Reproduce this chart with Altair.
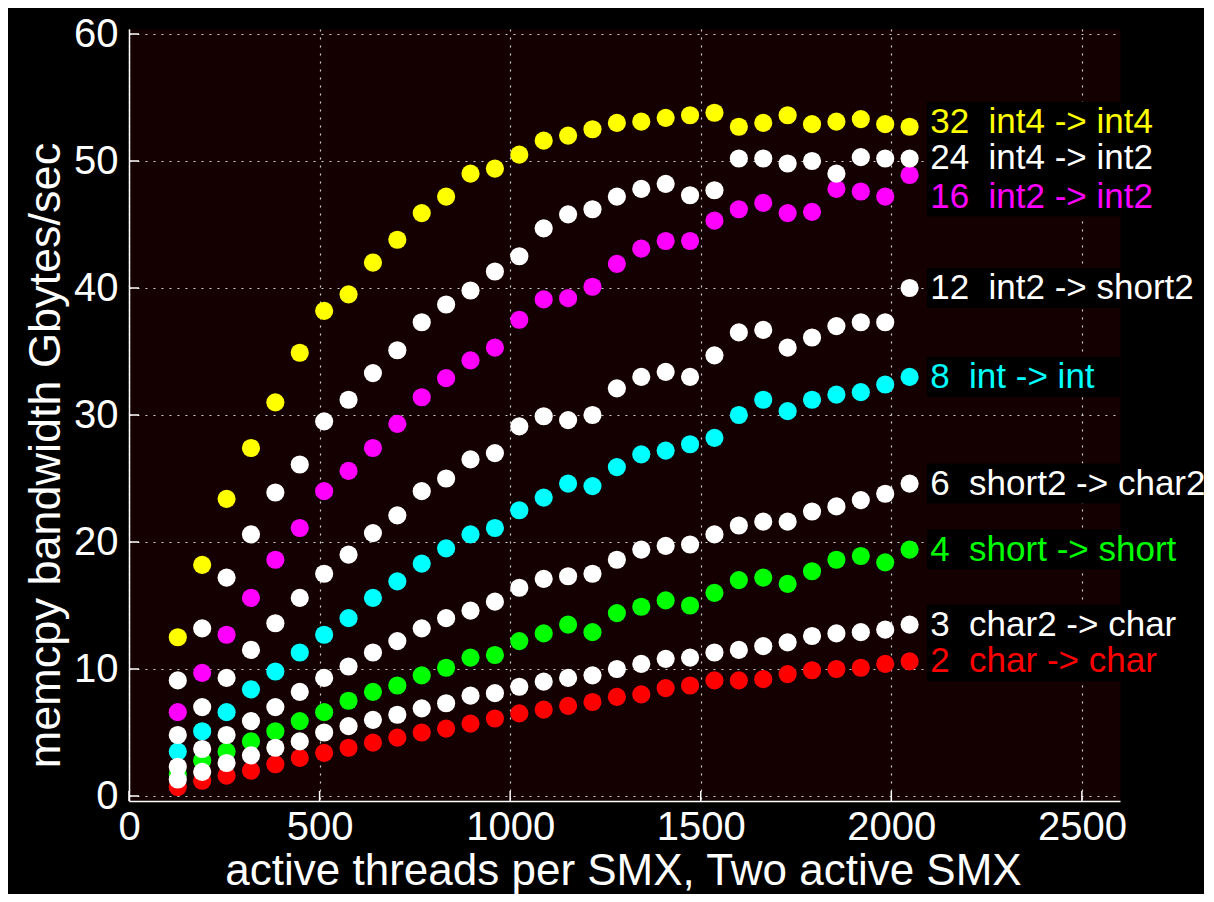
import altair as alt
import pandas as pd

threads = [128, 192, 256, 320, 384, 448, 512, 576, 640, 704, 768, 832, 896, 960,
           1024, 1088, 1152, 1216, 1280, 1344, 1408, 1472, 1536, 1600, 1664, 1728,
           1792, 1856, 1920, 1984, 2048]

bw_32 = [12.5, 18.2, 23.4, 27.4, 31.0, 34.9, 38.2, 39.5, 42.0, 43.8, 45.9, 47.2, 49.0, 49.4,
         50.5, 51.6, 52.0, 52.5, 53.0, 53.1, 53.4, 53.6, 53.8, 52.7, 53.0, 53.6, 52.9, 53.1,
         53.3, 52.9, 52.7]
bw_24 = [9.1, 13.2, 17.2, 20.6, 23.9, 26.1, 29.5, 31.2, 33.3, 35.1, 37.3, 38.7, 39.8, 41.3,
         42.5, 44.7, 45.8, 46.2, 47.2, 47.8, 48.2, 47.3, 47.7, 50.2, 50.2, 49.8, 50.0, 49.0,
         50.3, 50.2, 50.2]
bw_16 = [6.6, 9.7, 12.7, 15.6, 18.6, 21.1, 24.0, 25.6, 27.4, 29.3, 31.4, 32.9, 34.3, 35.3,
         37.5, 39.1, 39.2, 40.1, 41.9, 43.1, 43.7, 43.7, 45.3, 46.2, 46.7, 45.9, 46.0, 47.8,
         47.6, 47.2, 48.9]
bw_12 = [4.8, 7.0, 9.3, 11.5, 13.6, 15.6, 17.5, 19.0, 20.7, 22.1, 24.0, 25.0, 26.5, 27.0,
         29.1, 29.9, 29.6, 30.0, 32.1, 33.0, 33.4, 33.0, 34.7, 36.5, 36.7, 35.3, 36.1, 37.0,
         37.3, 37.3, 40.0]
bw_8 = [3.5, 5.1, 6.6, 8.4, 9.8, 11.3, 12.7, 14.0, 15.6, 16.9, 18.3, 19.5, 20.6, 21.1,
        22.5, 23.5, 24.6, 24.4, 25.9, 26.9, 27.2, 27.7, 28.2, 30.0, 31.2, 30.3, 31.2, 31.6,
        31.8, 32.4, 33.0]
bw_6 = [2.3, 3.7, 4.8, 5.9, 7.0, 8.2, 9.3, 10.2, 11.3, 12.2, 13.2, 14.0, 14.6, 15.3,
        16.4, 17.1, 17.3, 17.5, 18.6, 19.4, 19.7, 19.8, 20.6, 21.3, 21.6, 21.6, 22.4, 22.8,
        23.3, 23.8, 24.6]
bw_4 = [1.7, 2.8, 3.5, 4.3, 5.1, 5.9, 6.6, 7.5, 8.2, 8.7, 9.5, 10.1, 10.9, 11.1,
        12.2, 12.8, 13.5, 12.9, 14.4, 14.9, 15.4, 15.0, 16.0, 17.0, 17.2, 16.7, 17.7, 18.6,
        18.9, 18.4, 19.4]
bw_3 = [1.3, 1.9, 2.6, 3.2, 3.8, 4.3, 5.0, 5.5, 6.0, 6.4, 6.9, 7.3, 7.9, 8.1,
        8.6, 9.0, 9.3, 9.5, 10.0, 10.4, 10.8, 10.9, 11.3, 11.5, 11.8, 12.1, 12.6, 12.8,
        12.9, 13.1, 13.5]
bw_2 = [0.7, 1.2, 1.6, 2.0, 2.5, 3.0, 3.4, 3.8, 4.2, 4.6, 5.0, 5.3, 5.7, 6.1,
        6.5, 6.8, 7.1, 7.4, 7.8, 8.0, 8.5, 8.7, 9.1, 9.1, 9.2, 9.6, 9.9, 10.0,
        10.1, 10.4, 10.6]

NB = "\u00a0"
series_names = [
    "32" + NB + " int4 -> int4",
    "24" + NB + " int4 -> int2",
    "16" + NB + " int2 -> int2",
    "12" + NB + " int2 -> short2",
    "8" + NB + " int -> int",
    "6" + NB + " short2 -> char2",
    "4" + NB + " short -> short",
    "3" + NB + " char2 -> char",
    "2" + NB + " char -> char",
]
series_values = [bw_32, bw_24, bw_16, bw_12, bw_8, bw_6, bw_4, bw_3, bw_2]
series_colors = ["#ffff00", "#ffffff", "#ff00ff", "#ffffff", "#00ffff",
                 "#ffffff", "#00ff00", "#ffffff", "#ff0000"]
# label nudges (to avoid overlapping labels), in y units
label_nudge = [0.4, 0.0, -1.7, 0.0, 0.0, 0.0, 0.0, 0.0, 0.0]

x_ticks = [0, 500, 1000, 1500, 2000, 2500]
y_ticks = [0, 10, 20, 30, 40, 50, 60]

FONT = "Liberation Sans"
W, H = 991, 772

# draw coloured series first, white series on top
order = sorted(range(len(series_names)), key=lambda k: series_colors[k] == "#ffffff")
rows = []
for k in order:
    for t, v in zip(threads, series_values[k]):
        rows.append({"threads": t, "bw": v, "series": series_names[k]})
points_df = pd.DataFrame(rows)

label_df = pd.DataFrame({
    "series": series_names,
    "ly": [vals[-1] + nd for vals, nd in zip(series_values, label_nudge)],
    "lx": [2102] * len(series_names),
    "bx": [2094] * len(series_names),
    "bx2": [2600] * len(series_names),
})

xscale = alt.Scale(domain=[0, 2600], nice=False)
yscale = alt.Scale(domain=[0, 60], nice=False)
cscale = alt.Scale(domain=series_names, range=series_colors)

base_axis = dict(
    labelFont=FONT, labelFontSize=40, labelColor="white", labelFlush=False,
    labelOverlap=False, format="d",
    titleFont=FONT, titleFontWeight="normal", titleColor="white",
    domainColor="white", domainWidth=1.5, tickSize=0,
    grid=True, gridColor="#d0d0d0", gridDash=[2, 6], gridWidth=1.2,
)

x_enc = alt.X("threads:Q", scale=xscale,
              axis=alt.Axis(values=x_ticks, title="active threads per SMX, Two active SMX",
                            labelPadding=6, titleFontSize=44,
                            titleX=494, titleY=83, titleBaseline="alphabetic",
                            titleAlign="center", **base_axis))
y_enc = alt.Y("bw:Q", scale=yscale,
              axis=alt.Axis(values=y_ticks, title="memcpy bandwidth Gbytes/sec",
                            labelPadding=11, titleFontSize=45,
                            titleX=-84, titleY=426, titleAngle=270,
                            titleBaseline="middle", titleAlign="center", **base_axis))

pts = alt.Chart(points_df).mark_circle(size=330, opacity=1, strokeWidth=0).encode(
    x=x_enc, y=y_enc,
    color=alt.Color("series:N", scale=cscale, legend=None),
    order=alt.Order("idx:Q"),
).transform_window(idx="row_number()")

boxes = alt.Chart(label_df).mark_bar(height=40, color="black", orient="horizontal").encode(
    x=alt.X("bx:Q", scale=xscale), x2="bx2:Q", y=alt.Y("ly:Q", scale=yscale),
)

labels = alt.Chart(label_df).mark_text(
    align="left", baseline="middle", font=FONT, fontSize=35
).encode(
    x=alt.X("lx:Q", scale=xscale), y=alt.Y("ly:Q", scale=yscale),
    text="series:N",
    color=alt.Color("series:N", scale=cscale, legend=None),
)

xt = alt.Chart(pd.DataFrame({"t": x_ticks})).mark_rule(color="white", strokeWidth=1.5).encode(
    x=alt.X("t:Q", scale=xscale), y=alt.value(H), y2=alt.value(H - 10))
yt = alt.Chart(pd.DataFrame({"t": y_ticks})).mark_rule(color="white", strokeWidth=1.5).encode(
    y=alt.Y("t:Q", scale=yscale), x=alt.value(0), x2=alt.value(10))

chart = alt.layer(boxes, pts, labels, xt, yt).properties(
    width=W, height=H,
    autosize=alt.AutoSizeParams(type="none"),
    padding={"left": 121, "top": 21, "right": 84, "bottom": 93},
    background="black",
).configure_view(fill="#140000", stroke="transparent")

chart.save("out.html", embed_options={"renderer": "svg", "actions": False})
